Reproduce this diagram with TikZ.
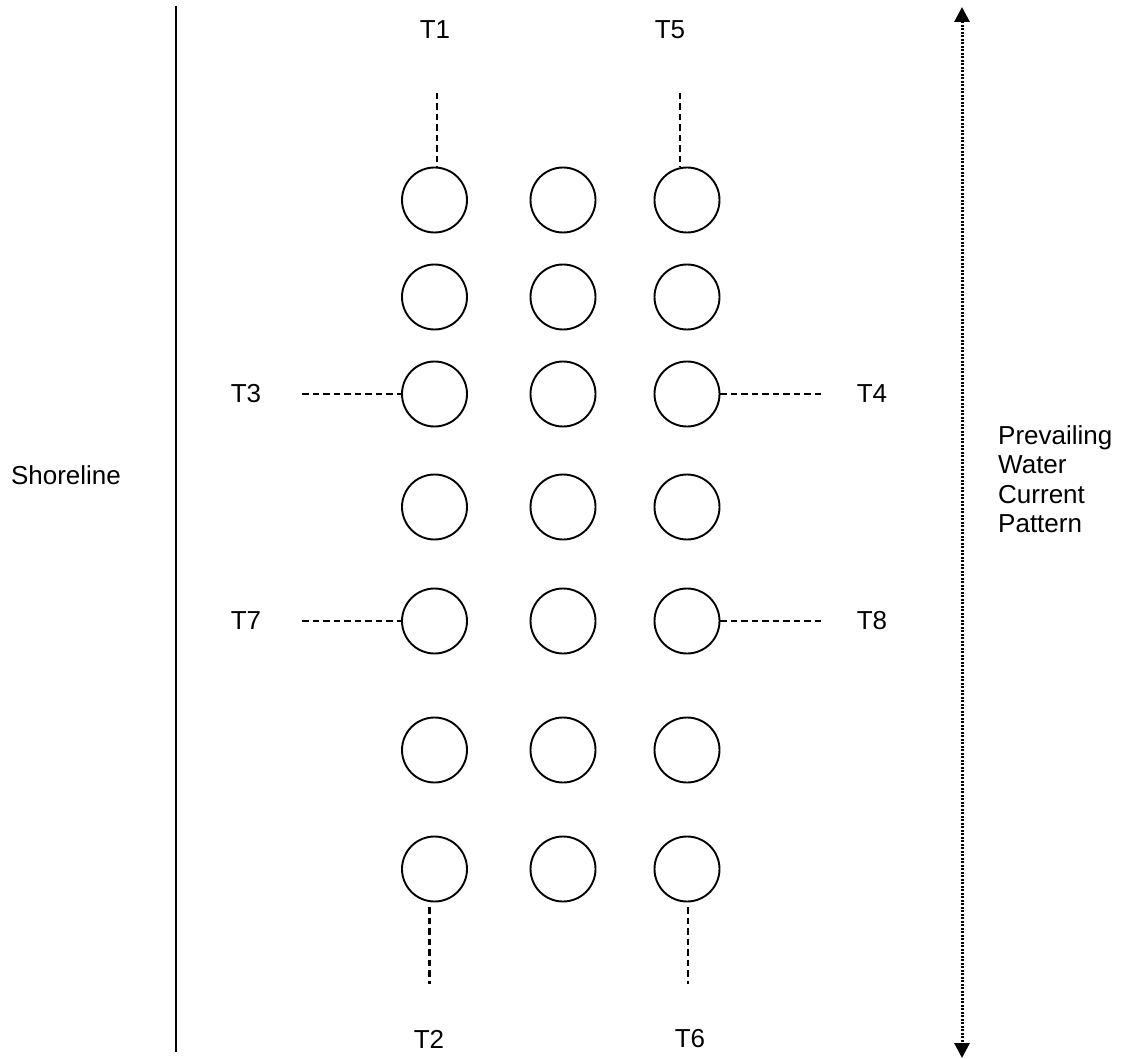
\documentclass[tikz,border=0pt]{standalone}
\usepackage{fontspec}
\setmainfont{Liberation Sans}
\usetikzlibrary{arrows.meta}
\begin{document}
\begin{tikzpicture}[x=1pt,y=-1pt,
  pile/.style={draw,circle,minimum size=65pt,inner sep=0pt,line width=1.9pt},
  lbl/.style={font=\fontsize{26}{29.5}\selectfont,inner sep=0pt},
  tline/.style={line width=2.8pt,dash pattern=on 6.5pt off 4pt},
  shore/.style={line width=2pt},
  current/.style={line width=3pt,dash pattern=on 1.8pt off 1.7pt,
    {Triangle[length=15pt,width=15pt]}-{Triangle[length=15pt,width=15pt]}}]
\useasboundingbox (0,0) rectangle (1124,1059);
% piles
\foreach \r/\y in {1/200,2/297,3/394,4/507,5/621,6/750,7/869}{
  \node[pile] (c\r1) at (434.5,\y) {};
  \node[pile] (c\r2) at (563,\y) {};
  \node[pile] (c\r3) at (687,\y) {};
}
% labels
\node[lbl] (T1) at (435,30) {T1};
\node[lbl] (T5) at (670,30) {T5};
\node[lbl] (T3) at (246,394) {T3};
\node[lbl] (T4) at (872,394) {T4};
\node[lbl] (T7) at (246,621) {T7};
\node[lbl] (T8) at (872,621) {T8};
\node[lbl] (T2) at (429,1039) {T2};
\node[lbl] (T6) at (690,1039) {T6};
\node[lbl] (shoretext) at (66,475) {Shoreline};
\node[lbl,anchor=west,align=left] (curtext) at (998,479) {Prevailing\\Water\\Current\\Pattern};
% transect coordinates
\coordinate (t1a) at (437,93);
\coordinate (t5a) at (680,93);
\coordinate (t3a) at (302,394);
\coordinate (t4a) at (824,394);
\coordinate (t7a) at (302,621);
\coordinate (t8a) at (824,621);
\coordinate (t2a) at (429.5,907);
\coordinate (t2b) at (429.5,984);
\coordinate (t6a) at (688,907);
\coordinate (t6b) at (688,984);
% transect lines
\draw[tline] (t1a) -- (t1a |- c11.north);
\draw[tline] (t5a) -- (t5a |- c13.north);
\draw[tline] (t3a) -- (c31.west);
\draw[tline] (c33.east) -- (t4a);
\draw[tline] (t7a) -- (c51.west);
\draw[tline] (c53.east) -- (t8a);
\draw[tline] (t2a) -- (t2b);
\draw[tline] (t6a) -- (t6b);
% shoreline
\coordinate (sh1) at (176,6);
\coordinate (sh2) at (176,1052);
\draw[shore] (sh1) -- (sh2);
% current arrow
\coordinate (cu1) at (962,7);
\coordinate (cu2) at (962,1058);
\draw[current] (cu1) -- (cu2);
\end{tikzpicture}
\end{document}
